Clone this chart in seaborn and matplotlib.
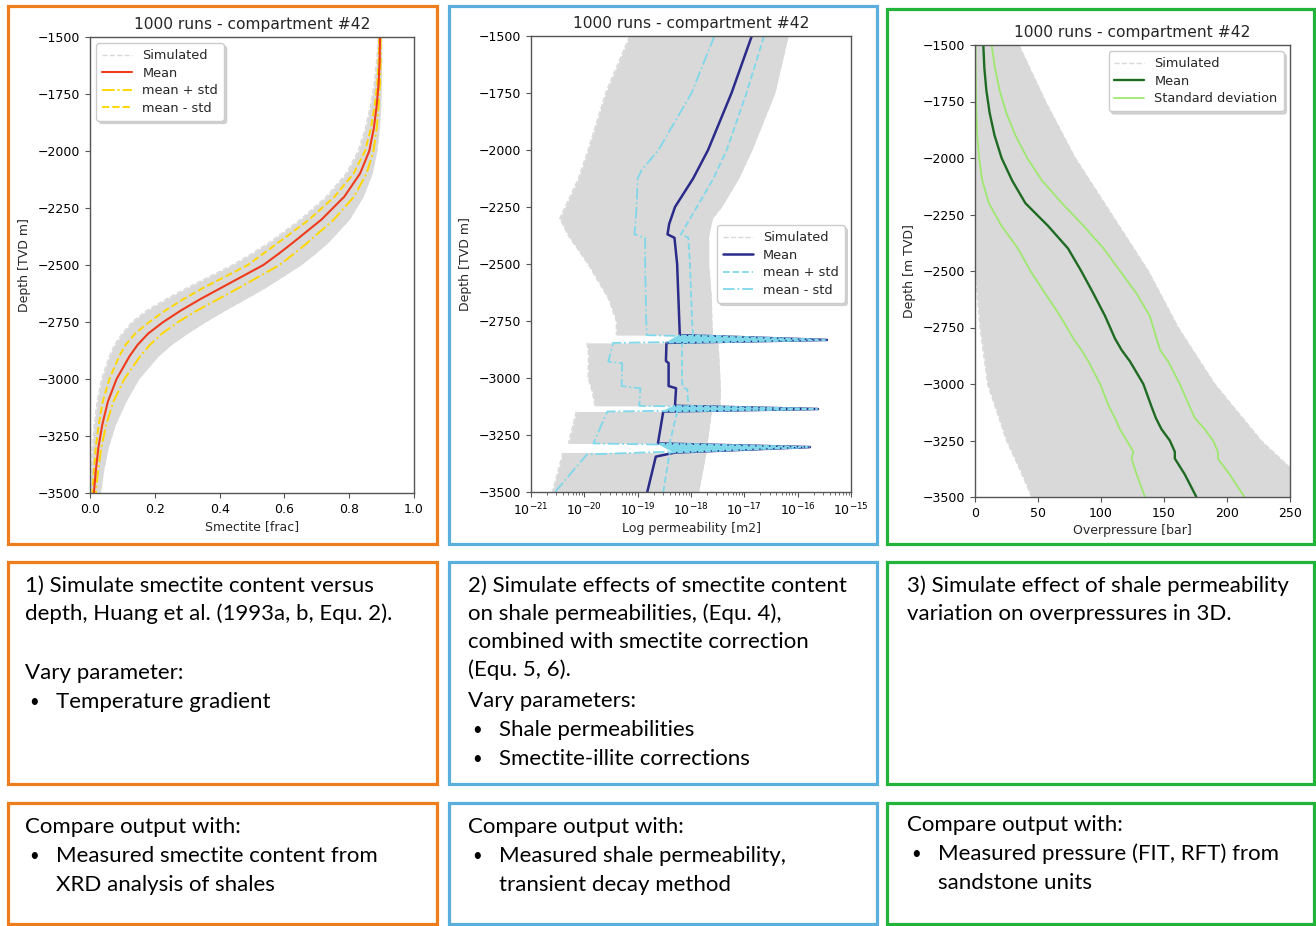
import numpy as np
import pandas as pd
import seaborn as sns
import matplotlib.pyplot as plt
from matplotlib.lines import Line2D
from matplotlib.patches import Rectangle

W, H = 1316, 926

# ---- panel 1: smectite vs depth ----
smec_depth = [-1500, -1600, -1700, -1800, -1900, -2000, -2100, -2200, -2300, -2400, -2450,
              -2500, -2600, -2650, -2700, -2750, -2800, -2850, -2900, -3000, -3100, -3200,
              -3300, -3400, -3500]
smec_mean = [0.895, 0.894, 0.891, 0.885, 0.876, 0.862, 0.833, 0.785, 0.715, 0.628, 0.583,
             0.535, 0.405, 0.34, 0.28, 0.226, 0.18, 0.147, 0.122, 0.082, 0.055, 0.038,
             0.026, 0.018, 0.012]
smec_plus = [0.897, 0.897, 0.895, 0.891, 0.885, 0.875, 0.853, 0.815, 0.753, 0.673, 0.63,
             0.585, 0.46, 0.395, 0.33, 0.272, 0.223, 0.185, 0.155, 0.106, 0.072, 0.05,
             0.035, 0.025, 0.018]
smec_minus = [0.893, 0.891, 0.887, 0.879, 0.867, 0.849, 0.813, 0.755, 0.677, 0.583, 0.535,
              0.487, 0.35, 0.288, 0.232, 0.183, 0.14, 0.11, 0.09, 0.06, 0.039, 0.027,
              0.018, 0.012, 0.007]
smec_min = [0.89, 0.885, 0.878, 0.866, 0.85, 0.828, 0.79, 0.73, 0.65, 0.555, 0.5,
            0.44, 0.3, 0.235, 0.175, 0.13, 0.1, 0.076, 0.06, 0.036, 0.022, 0.013,
            0.008, 0.005, 0.003]
smec_max = [0.9, 0.9, 0.899, 0.897, 0.893, 0.885, 0.87, 0.843, 0.8, 0.735, 0.695,
            0.65, 0.54, 0.478, 0.415, 0.355, 0.3, 0.25, 0.21, 0.15, 0.11, 0.078,
            0.056, 0.042, 0.032]

# ---- panel 2: log10 permeability vs depth ----
perm_mean_depth = [-1500, -1750, -2000, -2125, -2250, -2325, -2370, -2385, -2500,
                   -2750, -2812, -2833, -2846, -2925, -2935, -3035, -3045, -3122,
                   -3136, -3147, -3287, -3303, -3327, -3345, -3500]
perm_mean = [-16.86, -17.24, -17.68, -17.96, -18.30, -18.41, -18.44, -18.31, -18.26,
             -18.22, -18.21, -15.45, -18.46, -18.47, -18.42, -18.42, -18.28, -18.30,
             -15.62, -18.52, -18.62, -15.77, -18.30, -18.66, -18.82]
perm_plus_depth = [-1500, -1750, -2000, -2125, -2250, -2370, -2385, -2500, -2750,
                   -2812, -2833, -2846, -3000, -3040, -3050, -3122, -3136, -3147,
                   -3287, -3303, -3327, -3500]
perm_plus = [-16.63, -16.96, -17.33, -17.58, -17.89, -18.19, -18.05, -18.02, -17.98,
             -17.96, -15.50, -18.17, -18.17, -18.16, -18.07, -18.05, -15.65, -18.26,
             -18.40, -15.80, -18.40, -18.52]
perm_minus_depth = [-1500, -1750, -2000, -2090, -2125, -2250, -2370, -2385, -2500,
                    -2750, -2812, -2833, -2846, -2928, -2935, -3035, -3045, -3122,
                    -3136, -3147, -3287, -3303, -3335, -3500]
perm_minus = [-17.56, -17.99, -18.61, -18.93, -19.00, -19.02, -19.06, -18.86, -18.86,
              -18.84, -18.83, -15.50, -19.46, -19.55, -19.29, -19.30, -18.95, -18.97,
              -15.65, -19.57, -19.83, -15.80, -19.95, -20.55]
# envelope of the simulated runs, one segment per shale interval
perm_env_seg = [0] * 11 + [1] * 5 + [2] * 2 + [3] * 2
perm_env_depth = [-1500, -1750, -2000, -2125, -2250, -2300, -2375, -2500, -2650, -2750, -2812,
                  -2846, -2900, -3000, -3060, -3122,
                  -3147, -3287,
                  -3327, -3500]
perm_env_lo = [-19.15, -19.60, -19.93, -20.11, -20.36, -20.46, -20.30, -19.93, -19.55, -19.40, -19.40,
               -19.95, -19.92, -19.93, -19.85, -19.80,
               -20.15, -20.30,
               -20.40, -20.60]
perm_env_hi = [-16.18, -16.43, -16.86, -17.11, -17.43, -17.60, -17.67, -17.67, -17.62, -17.61, -17.60,
               -17.50, -17.48, -17.46, -17.45, -17.46,
               -17.62, -17.70,
               -17.72, -17.86]

# ---- panel 3: overpressure vs depth ----
op_depth = [-1500, -1600, -1700, -1800, -1900, -2000, -2100, -2200, -2300, -2400, -2500,
            -2600, -2700, -2800, -2850, -2900, -3000, -3100, -3150, -3200, -3250,
            -3300, -3330, -3400, -3500]
op_mean = [6.6, 7.4, 9.0, 11.6, 15.5, 21.1, 29.5, 40.0, 57.9, 73.8, 84.3,
           94.0, 103.3, 111.2, 116.4, 123.0, 133.6, 140.1, 143.5, 148.0, 154.6,
           158.6, 158.6, 166.5, 175.7]
op_lo = [0.5, 0.5, 0.8, 1.1, 1.8, 3.2, 5.8, 11.0, 21.0, 34.0, 44.0,
         55.8, 67.7, 78.2, 84.5, 90.0, 99.3, 106.4, 111.0, 115.0, 120.4,
         125.7, 124.3, 128.3, 134.9]
op_hi = [13.2, 15.8, 19.5, 24.8, 32.1, 41.4, 53.2, 69.0, 86.1, 102.0, 115.1,
         128.3, 138.8, 144.1, 147.0, 153.3, 162.5, 170.4, 174.4, 182.3, 188.9,
         192.8, 192.8, 202.0, 213.9]
op_env_depth = [-1500, -1750, -2000, -2250, -2500, -2750, -3000, -3250, -3370, -3500]
op_env_lo = [0, 0, 0, 0, 0, 4, 10, 25, 35, 45]
op_env_hi = [34.8, 55.9, 79.5, 108.5, 137.5, 161.2, 190.2, 227.0, 250.0, 262.0]

depth_ticks = list(range(-3500, -1499, 250))

ORANGE = '#EE7D1C'
BLUE = '#5AAFDD'
GREEN = '#22B33A'
SIM = '#d9d9d9'
SPINE = '#555555'
CYAN = '#7fd8ea'
NAVY = '#2b2b8a'
LGREEN = '#9fe86f'
DGREEN = '#1f6b23'
RED = '#EE3B1B'

sns.set_style('ticks')
plt.rcParams['font.family'] = ['DejaVu Sans']
plt.rcParams['axes.edgecolor'] = SPINE
plt.rcParams['xtick.color'] = SPINE
plt.rcParams['ytick.color'] = SPINE
plt.rcParams['xtick.labelcolor'] = 'black'
plt.rcParams['ytick.labelcolor'] = 'black'

fig = plt.figure(figsize=(W / 100, H / 100), dpi=100)


def px_axes(left, top, right, bottom):
    return fig.add_axes([left / W, 1 - bottom / H, (right - left) / W, (bottom - top) / H])


def box(left, top, right, bottom, color):
    fig.add_artist(Rectangle((left / W, 1 - bottom / H), (right - left) / W, (bottom - top) / H,
                             transform=fig.transFigure, fill=False, edgecolor=color, linewidth=2.3))


def style_axes(ax, xlabel, ylabel):
    ax.set_ylim(-3500, -1500)
    ax.set_yticks(depth_ticks)
    ax.set_title('1000 runs - compartment #42', fontsize=11.2, pad=6)
    ax.set_xlabel(xlabel, fontsize=9, labelpad=3)
    ax.set_ylabel(ylabel, fontsize=9, labelpad=5)
    ax.tick_params(labelsize=9)
    for s in ax.spines.values():
        s.set_linewidth(1.0)


def legend(ax, handles, labels, **kw):
    return ax.legend(handles, labels, fontsize=9.3, frameon=True, fancybox=True,
                     framealpha=1.0, edgecolor='#cccccc', handlelength=2.3,
                     shadow={'color': '#c8c8c8', 'alpha': 0.8}, borderpad=0.45,
                     labelspacing=0.35, **kw)


sim_handle = Line2D([], [], color=SIM, ls='--', lw=1.0)

# ---------- panel 1 ----------
ax1 = px_axes(90, 37, 414, 493)
ax1.fill_betweenx(smec_depth, smec_min, smec_max, color=SIM, lw=0)
for col in [smec_min, smec_max]:
    sns.lineplot(x=col, y=smec_depth, sort=False, estimator=None, ax=ax1,
                 color=SIM, linestyle='--', lw=1.0)
sns.lineplot(x=smec_minus, y=smec_depth, sort=False, estimator=None, ax=ax1,
             color='gold', linestyle='--', lw=1.4)
sns.lineplot(x=smec_plus, y=smec_depth, sort=False, estimator=None, ax=ax1,
             color='gold', linestyle='-.', lw=1.4)
sns.lineplot(x=smec_mean, y=smec_depth, sort=False, estimator=None, ax=ax1,
             color=RED, lw=1.5)
ax1.set_xlim(0, 1)
ax1.set_xticks([0, 0.2, 0.4, 0.6, 0.8, 1.0])
style_axes(ax1, 'Smectite [frac]', 'Depth [TVD m]')
legend(ax1, [sim_handle,
             Line2D([], [], color=RED, lw=1.5),
             Line2D([], [], color='gold', ls='-.', lw=1.4),
             Line2D([], [], color='gold', ls='--', lw=1.4)],
       ['Simulated', 'Mean', 'mean + std', 'mean - std'], loc='upper left')

# ---------- panel 2 ----------
ax2 = px_axes(531, 36, 851, 492)
env = pd.DataFrame({'seg': perm_env_seg, 'depth': perm_env_depth,
                    'lo': 10.0 ** np.array(perm_env_lo), 'hi': 10.0 ** np.array(perm_env_hi)})
for seg, part in env.groupby('seg'):
    ax2.fill_betweenx(part['depth'], part['lo'], part['hi'], color=SIM, lw=0)
for col in ['lo', 'hi']:
    sns.lineplot(data=env, x=col, y='depth', units='seg', estimator=None, sort=False,
                 ax=ax2, color=SIM, linestyle='--', lw=1.0)
sns.lineplot(x=10.0 ** np.array(perm_mean), y=perm_mean_depth, sort=False, estimator=None,
             ax=ax2, color=NAVY, lw=1.8)
sns.lineplot(x=10.0 ** np.array(perm_plus), y=perm_plus_depth, sort=False, estimator=None,
             ax=ax2, color=CYAN, linestyle='--', lw=1.3)
sns.lineplot(x=10.0 ** np.array(perm_minus), y=perm_minus_depth, sort=False, estimator=None,
             ax=ax2, color=CYAN, linestyle='-.', lw=1.3)
# thin cyan wedges where the runs shoot out through the sand layers
for i, v in enumerate(perm_mean):
    if v > -16:
        xs = 10.0 ** np.array(perm_mean[i - 1:i + 2])
        ys = perm_mean_depth[i - 1:i + 2]
        ax2.fill(xs, ys, color=CYAN, lw=1.0, zorder=5)
        ax2.plot(xs, ys, color=NAVY, lw=1.0, ls=(0, (1, 4)), zorder=6)
ax2.set_xscale('log')
ax2.set_xlim(1e-21, 1e-15)
ax2.set_xticks([10.0 ** e for e in range(-21, -14)])
style_axes(ax2, 'Log permeability [m2]', 'Depth [TVD m]')
legend(ax2, [sim_handle,
             Line2D([], [], color=NAVY, lw=1.8),
             Line2D([], [], color=CYAN, ls='--', lw=1.3),
             Line2D([], [], color=CYAN, ls='-.', lw=1.3)],
       ['Simulated', 'Mean', 'mean + std', 'mean - std'], loc='center right')

# ---------- panel 3 ----------
ax3 = px_axes(975, 45, 1290, 497)
ax3.fill_betweenx(op_env_depth, op_env_lo, op_env_hi, color=SIM, lw=0)
for col in [op_env_lo, op_env_hi]:
    sns.lineplot(x=col, y=op_env_depth, sort=False, estimator=None, ax=ax3,
                 color=SIM, linestyle='--', lw=1.0)
for col in [op_lo, op_hi]:
    sns.lineplot(x=col, y=op_depth, sort=False, estimator=None, ax=ax3,
                 color=LGREEN, lw=1.3)
sns.lineplot(x=op_mean, y=op_depth, sort=False, estimator=None, ax=ax3,
             color=DGREEN, lw=1.7)
ax3.set_xlim(0, 250)
ax3.set_xticks([0, 50, 100, 150, 200, 250])
style_axes(ax3, 'Overpressure [bar]', 'Depth [m TVD]')
legend(ax3, [sim_handle,
             Line2D([], [], color=DGREEN, lw=1.7),
             Line2D([], [], color=LGREEN, lw=1.3)],
       ['Simulated', 'Mean', 'Standard deviation'], loc='upper right')

# ---------- frames ----------
for (l, r), c in zip([(8, 437), (449, 877), (887, 1314)], [ORANGE, BLUE, GREEN]):
    box(l, 6 if c != GREEN else 9, r, 544, c)
    box(l, 562, r, 784, c)
    box(l, 803, r, 924, c)

# ---------- texts ----------
TXT = dict(fontsize=16, family=['Lato', 'DejaVu Sans'], va='center', color='black')


def put(x, y, s, **kw):
    fig.text(x / W, 1 - y / H, s, **{**TXT, **kw})


def bullet(x, y, s):
    put(x + 4, y, '\u2022', fontsize=12)
    put(x + 31, y, s)


put(25, 586, '1) Simulate smectite content versus')
put(25, 614, 'depth, Huang et al. (1993a, b, Equ. 2).')
put(25, 673, 'Vary parameter:')
bullet(25, 702, 'Temperature gradient')

put(468, 586, '2) Simulate effects of smectite content')
put(468, 614, 'on shale permeabilities, (Equ. 4),')
put(468, 642, 'combined with smectite correction')
put(468, 670, '(Equ. 5, 6).')
put(468, 701, 'Vary parameters:')
bullet(468, 730, 'Shale permeabilities')
bullet(468, 759, 'Smectite-illite corrections')

put(907, 586, '3) Simulate effect of shale permeability')
put(907, 614, 'variation on overpressures in 3D.')

put(25, 827, 'Compare output with:')
bullet(25, 856, 'Measured smectite content from')
put(56, 885, 'XRD analysis of shales')

put(468, 827, 'Compare output with:')
bullet(468, 856, 'Measured shale permeability,')
put(499, 885, 'transient decay method')

put(907, 825, 'Compare output with:')
bullet(907, 854, 'Measured pressure (FIT, RFT) from')
put(938, 883, 'sandstone units')

fig.savefig('out.png', dpi=100)
